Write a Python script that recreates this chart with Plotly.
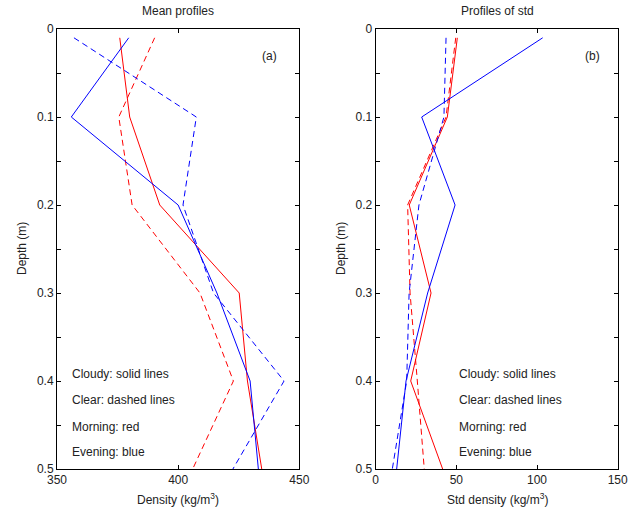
import plotly.graph_objects as go

depth = [0.01, 0.1, 0.2, 0.3, 0.4, 0.5]

# Mean density profiles (kg/m^3)
mean_morning_cloudy = [375.9, 380.0, 392.4, 425.2, 428.6, 434.5]
mean_morning_clear = [390.3, 375.5, 381.0, 409.0, 422.8, 406.0]
mean_evening_cloudy = [379.6, 355.9, 400.0, 416.0, 429.7, 433.1]
mean_evening_clear = [357.0, 407.5, 402.0, 414.6, 443.7, 422.6]

# Std density profiles (kg/m^3)
std_morning_cloudy = [50.6, 44.4, 20.8, 34.3, 21.7, 41.5]
std_morning_clear = [49.6, 43.6, 19.8, 21.3, 25.8, 30.1]
std_evening_cloudy = [103.5, 28.5, 49.2, 32.2, 18.8, 13.0]
std_evening_clear = [43.6, 42.3, 26.8, 20.7, 19.2, 10.3]

notes = ["Cloudy: solid lines", "Clear: dashed lines", "Morning: red", "Evening: blue"]
note_depths = [0.3925, 0.422, 0.452, 0.481]

depth_ticks = [0, 0.1, 0.2, 0.3, 0.4, 0.5]
depth_labels = ["0", "0.1", "0.2", "0.3", "0.4", "0.5"]

RED = "#ff0000"
BLUE = "#0000ff"
DASH = "6px,4px"
FONT = "Liberation Sans"
FS = 12

fig = go.Figure()

def add(x, color, dash, xa, ya):
    fig.add_trace(go.Scatter(x=x, y=depth, mode="lines", xaxis=xa, yaxis=ya,
                             line=dict(color=color, width=1, dash=dash),
                             showlegend=False, hoverinfo="skip"))

add(mean_morning_cloudy, RED, "solid", "x", "y")
add(mean_morning_clear, RED, DASH, "x", "y")
add(mean_evening_cloudy, BLUE, "solid", "x", "y")
add(mean_evening_clear, BLUE, DASH, "x", "y")
add(std_morning_cloudy, RED, "solid", "x2", "y2")
add(std_morning_clear, RED, DASH, "x2", "y2")
add(std_evening_cloudy, BLUE, "solid", "x2", "y2")
add(std_evening_clear, BLUE, DASH, "x2", "y2")

W, H = 636, 509
ydom = [(H - 469) / H, (H - 29) / H]

axis_common = dict(showgrid=False, zeroline=False, showline=True, linecolor="black",
                   linewidth=1, mirror="ticks", ticks="inside", ticklen=4,
                   tickcolor="black", automargin=False,
                   tickfont=dict(family=FONT, size=FS, color="#222"))
yminor = dict(dtick=0.05, ticks="inside", ticklen=4, tickcolor="black", showgrid=False)

fig.update_layout(
    width=W, height=H, margin=dict(l=0, r=0, t=0, b=0, pad=0, autoexpand=False),
    plot_bgcolor="white", paper_bgcolor="white",
    font=dict(family=FONT, size=FS, color="#222"),
    xaxis=dict(domain=[57 / W, 299.3 / W], range=[350, 450],
               tickvals=[350, 400, 450], anchor="y", **axis_common),
    yaxis=dict(domain=ydom, range=[0.5, 0], tickvals=depth_ticks,
               ticktext=depth_labels, anchor="x", minor=yminor, **axis_common),
    xaxis2=dict(domain=[375.7 / W, 617.7 / W], range=[0, 150],
                tickvals=[0, 50, 100, 150], anchor="y2", **axis_common),
    yaxis2=dict(domain=ydom, range=[0.5, 0], tickvals=depth_ticks,
                ticktext=depth_labels, anchor="x2", minor=yminor, **axis_common),
)

ann = []
for d, t in zip(note_depths, notes):
    ann.append(dict(x=355.4, y=d, xref="x", yref="y", text=t, showarrow=False,
                    xanchor="left", yanchor="middle", font=dict(size=FS)))
    ann.append(dict(x=50.2, y=d, xref="x2", yref="y2", text=t, showarrow=False,
                    xanchor="left", yanchor="middle", font=dict(size=FS)))
ann.append(dict(x=437.9, y=0.031, xref="x", yref="y", text="(a)", showarrow=False,
                xanchor="center", yanchor="middle", font=dict(size=FS)))
ann.append(dict(x=134.5, y=0.031, xref="x2", yref="y2", text="(b)", showarrow=False,
                xanchor="center", yanchor="middle", font=dict(size=FS)))
# titles
ann.append(dict(x=178 / W, y=1 - 11 / H, xref="paper", yref="paper", text="Mean profiles",
                showarrow=False, xanchor="center", yanchor="middle", font=dict(size=FS)))
ann.append(dict(x=497 / W, y=1 - 11 / H, xref="paper", yref="paper", text="Profiles of std",
                showarrow=False, xanchor="center", yanchor="middle", font=dict(size=FS)))
# axis titles
ann.append(dict(x=178 / W, y=1 - 499 / H, xref="paper", yref="paper",
                text="Density (kg/m<sup>3</sup>)", showarrow=False,
                xanchor="center", yanchor="middle", font=dict(size=FS)))
ann.append(dict(x=497 / W, y=1 - 499 / H, xref="paper", yref="paper",
                text="Std density (kg/m<sup>3</sup>)", showarrow=False,
                xanchor="center", yanchor="middle", font=dict(size=FS)))
ann.append(dict(x=22 / W, y=1 - 249 / H, xref="paper", yref="paper", text="Depth (m)",
                showarrow=False, textangle=-90, xanchor="center", yanchor="middle",
                font=dict(size=FS)))
ann.append(dict(x=341 / W, y=1 - 249 / H, xref="paper", yref="paper", text="Depth (m)",
                showarrow=False, textangle=-90, xanchor="center", yanchor="middle",
                font=dict(size=FS)))
fig.update_layout(annotations=ann)

fig.write_html("out.html")
